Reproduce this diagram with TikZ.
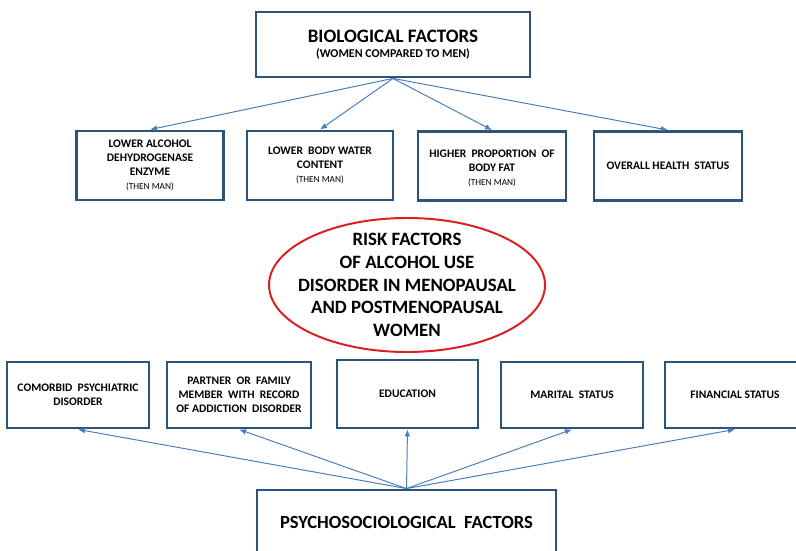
\documentclass[tikz,border=0pt]{standalone}
\usepackage{fontspec}
\setmainfont{Carlito}
\usetikzlibrary{arrows.meta}
\definecolor{boxblue}{RGB}{44,84,122}
\definecolor{linkblue}{RGB}{74,126,187}
\definecolor{ovalred}{RGB}{220,30,35}
\newcommand{\thenman}{{\fontsize{6.6}{8}\selectfont\mdseries (THEN MAN)}}
\begin{document}
\begin{tikzpicture}[x=0.025cm, y=-0.025cm,
  factorbox/.style={draw=boxblue, line width=2pt, fill=white, align=center, font=\bfseries\fontsize{8.2}{10}\selectfont, inner sep=2pt},
  link/.style={draw=linkblue, line width=0.7pt, -{Latex[length=5pt,width=4pt]}}]
  \clip (0,0) rectangle (796,551);
  \fill[white] (0,0) rectangle (796,551);
  % top group
  \node[factorbox, minimum width=6.85cm, minimum height=1.625cm] (bio) at (393,44.5)
    {{\fontsize{13.5}{16}\selectfont BIOLOGICAL FACTORS}\\[1pt]{\fontsize{8.5}{9}\selectfont (WOMEN COMPARED TO MEN)}};
  \node[factorbox, minimum width=3.675cm, minimum height=1.725cm] (enzyme) at (150,165.5)
    {LOWER ALCOHOL\\DEHYDROGENASE\\ENZYME\\\thenman};
  \node[factorbox, minimum width=3.65cm, minimum height=1.725cm] (water) at (320,165.5)
    {LOWER\ \ BODY WATER\\CONTENT\\\thenman};
  \node[factorbox, minimum width=3.7cm, minimum height=1.725cm] (fat) at (492,166)
    {\mbox{}\\[-1pt]HIGHER\ \ PROPORTION\ \ OF\\BODY FAT\\\thenman};
  \node[factorbox, minimum width=3.7cm, minimum height=1.725cm] (health) at (668,166)
    {OVERALL HEALTH\ \ STATUS};
  \foreach \t in {enzyme,water,fat,health}
    \draw[link] (bio.south) -- (\t.north);
  % centre oval
  \node[align=center, font=\bfseries\fontsize{13.4}{16.2}\selectfont] (risk) at (407,285)
    {RISK FACTORS\\OF ALCOHOL USE\\DISORDER IN MENOPAUSAL\\AND POSTMENOPAUSAL\\WOMEN};
  \draw[ovalred, line width=1.4pt] (risk.center) ellipse [x radius=138, y radius=67];
  % bottom group
  \node[factorbox, minimum width=7.475cm, minimum height=1.6cm, font=\bfseries\fontsize{13.2}{15}\selectfont] (psycho) at (406.5,522)
    {PSYCHOSOCIOLOGICAL\ \ FACTORS};
  \node[factorbox, minimum width=3.55cm, minimum height=1.65cm] (comorbid) at (78,395)
    {COMORBID\ \ PSYCHIATRIC\\DISORDER};
  \node[factorbox, minimum width=3.6cm, minimum height=1.65cm] (partner) at (239,395)
    {PARTNER\ \ OR\ \ FAMILY\\MEMBER\ \ WITH\ \ RECORD\\OF ADDICTION\ \ DISORDER};
  \node[factorbox, minimum width=3.525cm, minimum height=1.7cm] (school) at (407.5,394)
    {EDUCATION};
  \node[factorbox, minimum width=3.55cm, minimum height=1.65cm] (marital) at (572,395)
    {MARITAL\ \ STATUS};
  \node[factorbox, minimum width=3.5cm, minimum height=1.65cm] (money) at (735,395)
    {FINANCIAL STATUS};
  \foreach \t in {comorbid,partner,school,marital,money}
    \draw[link] (psycho.north) -- (\t.south);
\end{tikzpicture}
\end{document}
